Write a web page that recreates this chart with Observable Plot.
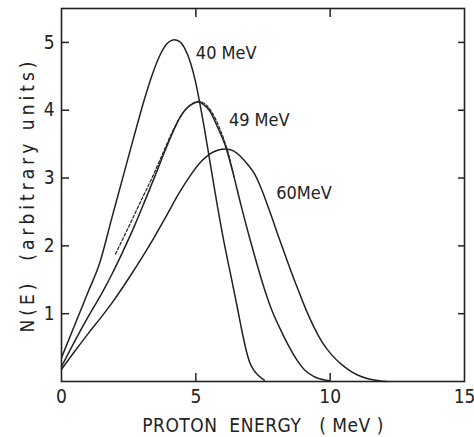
<!DOCTYPE html>
<html>
<head>
<meta charset="utf-8">
<script src="https://cdn.jsdelivr.net/npm/d3@7"></script>
<script src="https://cdn.jsdelivr.net/npm/@observablehq/plot@0.6"></script>
<style>
  html, body { margin: 0; padding: 0; background: #fff; }
  svg text { white-space: pre; }
  g[aria-label="y-axis label"] text { letter-spacing: 4px; }
  g[aria-label="x-axis label"] text { letter-spacing: 0.5px; }
</style>
</head>
<body>
<div id="chart"></div>
<script>
// Proton energy spectra N(E) for three incident energies
const e40 = [0,0.5,1.0,1.4,1.9,2.4,2.8,3.1,3.4,3.7,3.95,4.19,4.4,4.6,4.81,5.0,5.15,5.31,5.5,5.81,6.05,6.31,6.55,6.74,6.88,6.99,7.15,7.3,7.55];
const n40 = [0.35,0.84,1.33,1.72,2.45,3.18,3.76,4.18,4.55,4.84,4.99,5.04,5.01,4.9,4.69,4.4,4.1,3.75,3.3,2.57,2.05,1.55,1.08,0.70,0.45,0.30,0.17,0.10,0.02];

const e49 = [0,0.5,1.0,1.5,1.9,2.3,2.7,3.1,3.5,3.85,4.17,4.45,4.69,4.9,5.12,5.3,5.5,5.81,6.12,6.4,6.68,7.0,7.24,7.5,7.8,8.17,8.42,8.79,9.1,9.41,9.97];
const n49 = [0.22,0.6,0.96,1.3,1.6,1.93,2.28,2.66,3.05,3.4,3.70,3.92,4.04,4.1,4.12,4.08,4.0,3.75,3.45,3.05,2.6,2.12,1.78,1.43,1.08,0.75,0.55,0.3,0.15,0.07,0.01];

const e60 = [0,0.5,1.0,1.5,1.9,2.4,3.0,3.5,3.9,4.38,4.8,5.19,5.5,5.81,6.12,6.4,6.93,7.2,7.43,7.74,8.11,8.42,8.79,9.1,9.41,9.7,10.04,10.4,10.66,11.0,11.41,12.1];
const n60 = [0.18,0.45,0.71,0.96,1.17,1.46,1.83,2.16,2.44,2.78,3.04,3.24,3.35,3.41,3.43,3.40,3.2,3.05,2.85,2.52,2.1,1.76,1.37,1.06,0.79,0.58,0.40,0.26,0.18,0.1,0.04,0];

// dashed comparison curve near the 49 MeV spectrum
const eDash = [2.01,2.5,3.0,3.32,3.7,4.1,4.5,4.85,5.1,5.35,5.6,5.9,6.2,6.42];
const nDash = [1.88,2.28,2.7,2.96,3.3,3.66,3.95,4.09,4.13,4.09,3.97,3.72,3.38,3.02];

const curveNames = ["40 MeV", "49 MeV", "60MeV"];
const labelE = [5.0, 6.23, 7.99];
const labelN = [4.84, 3.85, 2.78];

const xTicks = [0, 5, 10, 15];
const yTicks = [1, 2, 3, 4, 5];
const innerXTicks = [5, 10];

const toRows = (xs, ys) => xs.map((x, i) => ({x, y: ys[i]}));
const s40 = toRows(e40, n40), s49 = toRows(e49, n49), s60 = toRows(e60, n60), sDash = toRows(eDash, nDash);
const labels = curveNames.map((t, i) => ({t, x: labelE[i], y: labelN[i]}));

const ink = "#222";
const font = "'DejaVu Sans Condensed', 'Liberation Sans Narrow', 'DejaVu Sans', sans-serif";

const chart = Plot.plot({
  width: 474,
  height: 437,
  marginLeft: 61,
  marginRight: 10,
  marginTop: 8,
  marginBottom: 56,
  style: {fontFamily: font, fontSize: "18px", color: ink, background: "#fff"},
  x: {domain: [0, 15]},
  y: {domain: [0, 5.5]},
  marks: [
    Plot.frame({stroke: ink, strokeWidth: 1.6}),
    // inward ticks
    Plot.axisY(yTicks, {anchor: "left", tickSize: 8, dx: 8, tickFormat: () => "", label: null, strokeWidth: 1.5}),
    Plot.axisY(yTicks, {anchor: "right", tickSize: 7, dx: -7, tickFormat: () => "", label: null, strokeWidth: 1.5}),
    Plot.axisX(innerXTicks, {anchor: "bottom", tickSize: 8, dy: -8, tickFormat: () => "", label: null, strokeWidth: 1.5}),
    Plot.axisX(innerXTicks, {anchor: "top", tickSize: 8, dy: 8, tickFormat: () => "", label: null, strokeWidth: 1.5}),
    // tick labels and axis titles
    Plot.axisY(yTicks, {anchor: "left", tickSize: 0, tickPadding: 7, tickFormat: d3.format("d"), label: "N(E)  (arbitrary units)", labelArrow: "none", labelAnchor: "center", labelOffset: 41, fontSize: 19}),
    Plot.axisX(xTicks, {anchor: "bottom", tickSize: 0, tickPadding: 8, tickFormat: d3.format("d"), label: "PROTON  ENERGY   ( MeV )", labelArrow: "none", labelAnchor: "center", labelOffset: 50, fontSize: 19}),
    // curves
    Plot.line(s40, {x: "x", y: "y", curve: "monotone-x", stroke: ink, strokeWidth: 1.5}),
    Plot.line(s49, {x: "x", y: "y", curve: "monotone-x", stroke: ink, strokeWidth: 1.5}),
    Plot.line(s60, {x: "x", y: "y", curve: "monotone-x", stroke: ink, strokeWidth: 1.5}),
    Plot.line(sDash, {x: "x", y: "y", curve: "monotone-x", stroke: ink, strokeWidth: 1.2, strokeDasharray: "3,2"}),
    Plot.text(labels, {x: "x", y: "y", text: "t", textAnchor: "start", fontSize: 18, fill: ink})
  ]
});
document.getElementById("chart").appendChild(chart);
</script>
</body>
</html>
